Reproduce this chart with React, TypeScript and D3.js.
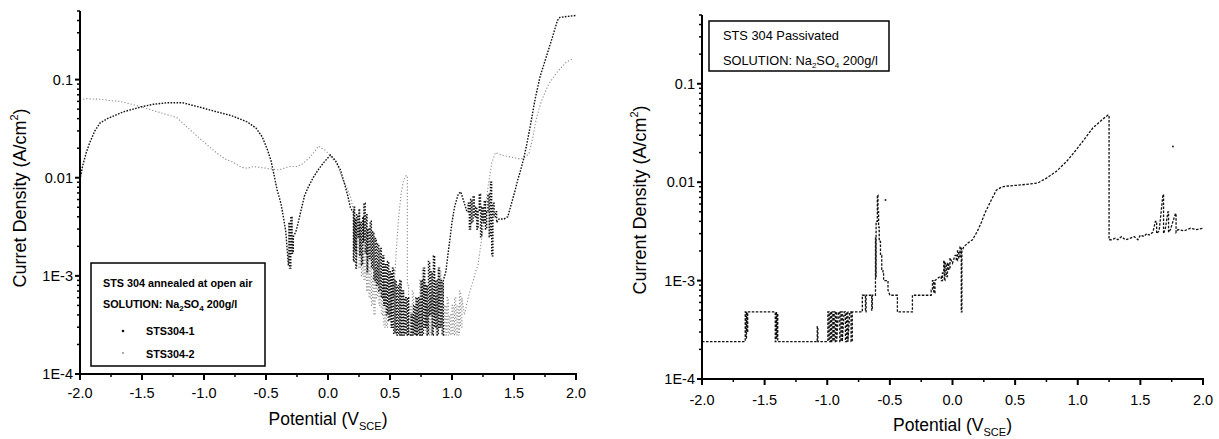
import React from "react";
import * as d3 from "d3";

// ---------- data ----------
const X_TICKS = [-2.0, -1.5, -1.0, -0.5, 0.0, 0.5, 1.0, 1.5, 2.0];
const X_TICK_LABELS = ["-2.0", "-1.5", "-1.0", "-0.5", "0.0", "0.5", "1.0", "1.5", "2.0"];
const Y_TICKS = [1e-4, 1e-3, 0.01, 0.1];
const Y_TICK_LABELS = ["1E-4", "1E-3", "0.01", "0.1"];

// STS304-1 (annealed at open air), [potential V, current density A/cm2]
const STS304_1: [number, number][] = [
  [-2.0, 0.0095], [-1.98, 0.013], [-1.95, 0.018], [-1.92, 0.023], [-1.88, 0.03], [-1.84, 0.036],
  [-1.78, 0.04], [-1.72, 0.043], [-1.65, 0.047], [-1.57, 0.05], [-1.5, 0.053], [-1.41, 0.056],
  [-1.3, 0.058], [-1.17, 0.058], [-1.05, 0.053], [-0.9, 0.047], [-0.78, 0.043], [-0.65, 0.037],
  [-0.58, 0.032], [-0.53, 0.026], [-0.49, 0.0195], [-0.46, 0.015], [-0.44, 0.0114], [-0.41, 0.0075],
  [-0.38, 0.0055], [-0.36, 0.004], [-0.34, 0.0028], [-0.32, 0.0013], [-0.315, 0.0035], [-0.31, 0.0012],
  [-0.3, 0.004], [-0.29, 0.0017], [-0.28, 0.0025], [-0.26, 0.0028], [-0.24, 0.0035], [-0.22, 0.0045],
  [-0.19, 0.0065], [-0.16, 0.008], [-0.12, 0.01], [-0.08, 0.012], [-0.04, 0.014], [0.0, 0.016],
  [0.02, 0.017], [0.06, 0.015], [0.1, 0.012], [0.13, 0.009], [0.16, 0.0065], [0.18, 0.005],
  [0.2, 0.0045], [0.205, 0.0014], [0.21, 0.005], [0.215, 0.0018], [0.22, 0.0038], [0.225, 0.0012],
  [0.23, 0.0042], [0.24, 0.0025], [0.25, 0.0048], [0.255, 0.0016], [0.26, 0.0035], [0.27, 0.0013],
  [0.28, 0.004], [0.285, 0.0022], [0.29, 0.0055], [0.3, 0.0017], [0.31, 0.0042], [0.315, 0.0011],
  [0.32, 0.003], [0.33, 0.0015], [0.34, 0.0036], [0.35, 0.0012], [0.36, 0.0028], [0.37, 0.0009],
  [0.38, 0.0024], [0.39, 0.0008], [0.4, 0.0021], [0.41, 0.0007], [0.42, 0.0019], [0.43, 0.0006],
  [0.44, 0.0016], [0.45, 0.0005], [0.46, 0.0013], [0.47, 0.0004], [0.48, 0.0014], [0.49, 0.00035],
  [0.5, 0.0011], [0.51, 0.0003], [0.52, 0.0012], [0.53, 0.00026], [0.54, 0.0009], [0.55, 0.00025],
  [0.56, 0.0008], [0.57, 0.00025], [0.58, 0.0009], [0.59, 0.00025], [0.6, 0.0007], [0.61, 0.00025],
  [0.62, 0.0006], [0.63, 0.00025], [0.64, 0.0006], [0.65, 0.00025], [0.66, 0.00025], [0.67, 0.0004],
  [0.68, 0.00025], [0.69, 0.0005], [0.7, 0.00025], [0.71, 0.0006], [0.72, 0.00025], [0.73, 0.0006],
  [0.74, 0.00025], [0.75, 0.0009], [0.76, 0.00025], [0.77, 0.0012], [0.78, 0.0003], [0.79, 0.0008],
  [0.8, 0.00025], [0.81, 0.0014], [0.82, 0.0004], [0.83, 0.0011], [0.84, 0.00025], [0.85, 0.0016],
  [0.86, 0.0003], [0.87, 0.0009], [0.88, 0.00025], [0.89, 0.0012], [0.9, 0.0003], [0.91, 0.0009],
  [0.92, 0.00025], [0.93, 0.0009], [0.95, 0.0011], [0.98, 0.0022],
  [1.0, 0.0035], [1.02, 0.005], [1.05, 0.0068], [1.07, 0.0072], [1.1, 0.0055], [1.12, 0.0045],
  [1.13, 0.0055], [1.14, 0.003], [1.15, 0.006], [1.16, 0.0035], [1.17, 0.0065], [1.18, 0.004],
  [1.19, 0.005], [1.2, 0.003], [1.21, 0.0045], [1.22, 0.0068], [1.23, 0.0025], [1.24, 0.005],
  [1.25, 0.0035], [1.26, 0.0058], [1.27, 0.003], [1.28, 0.0045], [1.29, 0.0068], [1.3, 0.0025],
  [1.31, 0.009], [1.32, 0.0016], [1.33, 0.0055], [1.34, 0.004], [1.35, 0.0045], [1.36, 0.0035],
  [1.38, 0.0038], [1.42, 0.0038], [1.45, 0.004],
  [1.48, 0.0055], [1.51, 0.0075], [1.53, 0.0095], [1.55, 0.0115], [1.58, 0.016], [1.6, 0.021],
  [1.63, 0.033], [1.67, 0.063], [1.71, 0.107], [1.76, 0.17], [1.81, 0.27], [1.85, 0.4],
  [1.87, 0.43], [1.93, 0.44], [2.0, 0.45],
];

// STS304-2 (annealed at open air)
const STS304_2: [number, number][] = [
  [-2.0, 0.062], [-1.95, 0.064], [-1.84, 0.063], [-1.75, 0.061], [-1.68, 0.06], [-1.58, 0.056],
  [-1.49, 0.052], [-1.4, 0.048], [-1.3, 0.044], [-1.22, 0.041], [-1.15, 0.034], [-1.09, 0.029],
  [-1.0, 0.023], [-0.9, 0.018], [-0.83, 0.0155], [-0.77, 0.0145], [-0.7, 0.0128], [-0.65, 0.0125],
  [-0.6, 0.013], [-0.5, 0.0125], [-0.4, 0.012], [-0.31, 0.013], [-0.25, 0.013], [-0.2, 0.014],
  [-0.15, 0.016], [-0.1, 0.019], [-0.08, 0.021], [-0.05, 0.02], [-0.02, 0.019], [0.03, 0.016],
  [0.07, 0.014], [0.12, 0.0095], [0.15, 0.008], [0.18, 0.0065], [0.2, 0.005], [0.21, 0.0022],
  [0.22, 0.0035], [0.23, 0.0016], [0.24, 0.003], [0.25, 0.0012], [0.26, 0.0026], [0.27, 0.001],
  [0.28, 0.0022], [0.29, 0.0009], [0.3, 0.0019], [0.31, 0.0007], [0.32, 0.0015], [0.33, 0.0006],
  [0.34, 0.0012], [0.35, 0.0005], [0.36, 0.001], [0.37, 0.0004], [0.38, 0.0012], [0.39, 0.0006],
  [0.4, 0.0014], [0.41, 0.0005], [0.42, 0.0011], [0.43, 0.0004], [0.44, 0.0009], [0.45, 0.0003],
  [0.46, 0.0008], [0.47, 0.0003], [0.48, 0.0009], [0.49, 0.0004], [0.5, 0.001], [0.51, 0.0004],
  [0.52, 0.0012], [0.53, 0.0006], [0.55, 0.0018],
  [0.57, 0.004], [0.59, 0.007], [0.61, 0.0095], [0.63, 0.0105], [0.64, 0.0008], [0.65, 0.00025],
  [0.66, 0.0005], [0.67, 0.00025], [0.68, 0.0007], [0.69, 0.00025], [0.7, 0.0004], [0.71, 0.00025],
  [0.72, 0.0006], [0.73, 0.00025], [0.74, 0.0009], [0.75, 0.0003], [0.76, 0.0012], [0.77, 0.0004],
  [0.78, 0.0009], [0.79, 0.00025], [0.8, 0.0005], [0.81, 0.00025], [0.82, 0.0006], [0.83, 0.00025],
  [0.84, 0.0007], [0.85, 0.0004], [0.86, 0.0006], [0.87, 0.00025], [0.88, 0.0008], [0.89, 0.0003],
  [0.9, 0.0011], [0.91, 0.0003], [0.92, 0.0008], [0.93, 0.00025], [0.94, 0.0005], [0.95, 0.00025],
  [0.96, 0.0006], [0.97, 0.00025], [0.98, 0.0004], [0.99, 0.00025], [1.0, 0.0005], [1.01, 0.00025],
  [1.02, 0.0006], [1.03, 0.00025], [1.04, 0.0005], [1.05, 0.00025], [1.06, 0.0007], [1.07, 0.0003],
  [1.08, 0.0006], [1.1, 0.0004], [1.13, 0.0006], [1.16, 0.0008], [1.19, 0.0011], [1.21, 0.0013],
  [1.25, 0.003], [1.29, 0.008], [1.32, 0.014], [1.35, 0.018], [1.4, 0.017], [1.45, 0.0165],
  [1.5, 0.016], [1.55, 0.0155], [1.58, 0.016], [1.62, 0.0175], [1.65, 0.025], [1.68, 0.04],
  [1.72, 0.06], [1.78, 0.09], [1.85, 0.12], [1.92, 0.15], [1.98, 0.165],
];

// STS 304 Passivated
const PASSIVATED: [number, number][] = [
  [-2.0, 2.4e-4], [-1.66, 2.4e-4], [-1.655, 4.8e-4], [-1.65, 2.6e-4], [-1.645, 4.8e-4], [-1.64, 3e-4],
  [-1.635, 4.8e-4], [-1.42, 4.8e-4], [-1.415, 2.4e-4], [-1.41, 4.8e-4], [-1.405, 2.6e-4], [-1.4, 4.6e-4],
  [-1.395, 2.4e-4], [-1.08, 2.4e-4], [-1.08, 3.4e-4], [-1.075, 2.4e-4], [-1.0, 2.4e-4], [-0.995, 4.8e-4],
  [-0.985, 2.4e-4], [-0.975, 4.8e-4], [-0.965, 2.4e-4], [-0.955, 4.8e-4], [-0.945, 2.4e-4], [-0.935, 4.8e-4],
  [-0.925, 2.4e-4], [-0.91, 4.8e-4], [-0.9, 2.4e-4], [-0.89, 4.8e-4], [-0.88, 2.4e-4], [-0.865, 4.8e-4],
  [-0.855, 2.4e-4], [-0.845, 4.8e-4], [-0.835, 2.4e-4], [-0.82, 4.8e-4], [-0.81, 2.4e-4], [-0.8, 4.8e-4],
  [-0.72, 4.8e-4], [-0.72, 7.1e-4], [-0.7, 7.1e-4], [-0.695, 4.8e-4], [-0.69, 7.1e-4], [-0.65, 7.1e-4],
  [-0.645, 5e-4], [-0.64, 7.1e-4], [-0.62, 7.1e-4], [-0.615, 2.7e-3], [-0.612, 1.1e-3], [-0.61, 4e-3],
  [-0.6, 7.4e-3], [-0.595, 5e-3], [-0.59, 3.5e-3], [-0.585, 2.5e-3], [-0.575, 1.8e-3], [-0.565, 1.3e-3],
  [-0.555, 1.2e-3], [-0.55, 1.0e-3], [-0.52, 1.0e-3], [-0.515, 8e-4], [-0.5, 7.1e-4], [-0.44, 7.1e-4],
  [-0.44, 4.8e-4], [-0.32, 4.8e-4], [-0.32, 7.1e-4], [-0.18, 7.1e-4], [-0.17, 8e-4], [-0.16, 1.0e-3],
  [-0.15, 7.5e-4], [-0.14, 1.0e-3], [-0.12, 1.05e-3], [-0.1, 1.1e-3], [-0.09, 1.0e-3], [-0.08, 1.2e-3],
  [-0.07, 1.6e-3], [-0.065, 1.0e-3], [-0.06, 1.5e-3], [-0.05, 1.1e-3], [-0.04, 1.5e-3], [-0.03, 1.3e-3],
  [-0.02, 1.7e-3], [0.0, 1.5e-3], [0.02, 1.8e-3], [0.03, 1.6e-3], [0.04, 2.0e-3], [0.05, 1.7e-3],
  [0.06, 2.2e-3], [0.07, 4.8e-4], [0.075, 2.0e-3], [0.09, 2.2e-3], [0.12, 2.4e-3], [0.16, 2.6e-3],
  [0.2, 3.2e-3], [0.23, 3.9e-3], [0.26, 4.9e-3], [0.31, 6.6e-3], [0.35, 8.3e-3], [0.39, 8.9e-3],
  [0.43, 9.1e-3], [0.51, 9.3e-3], [0.59, 9.5e-3], [0.68, 9.8e-3], [0.75, 0.011], [0.83, 0.0129],
  [0.91, 0.0162], [0.97, 0.02], [1.05, 0.027], [1.12, 0.0355], [1.19, 0.0427], [1.24, 0.048],
  [1.245, 0.048], [1.25, 0.0026], [1.27, 0.0026], [1.3, 0.0027], [1.32, 0.0026], [1.35, 0.0028],
  [1.38, 0.0026], [1.42, 0.0027], [1.45, 0.0028], [1.48, 0.0026], [1.5, 0.0029], [1.53, 0.0028],
  [1.55, 0.003], [1.57, 0.0029], [1.6, 0.0031], [1.62, 0.004], [1.63, 0.003], [1.65, 0.0032],
  [1.68, 0.0075], [1.685, 0.003], [1.7, 0.0034], [1.72, 0.005], [1.725, 0.0031], [1.74, 0.0033],
  [1.78, 0.0048], [1.785, 0.0031], [1.8, 0.0033], [1.85, 0.0032], [1.9, 0.0034], [1.95, 0.0033],
  [2.0, 0.0034],
];
const PASSIVATED_STRAY: [number, number][] = [[-0.535, 6.6e-3], [1.76, 0.023]];

const LEFT_LEGEND = ["STS 304 annealed at open air", "SOLUTION: Na", "2", "SO", "4", " 200g/l"];
const SERIES_NAMES = ["STS304-1", "STS304-2"];
const RIGHT_LEGEND = ["STS 304 Passivated"];

const FONT = "'Liberation Sans', Arial, Helvetica, sans-serif";

// path builder: closely spaced readings are drawn as vertical steps (noisy current spikes)
function seriesPath(
  data: [number, number][],
  x: d3.ScaleLinear<number, number>,
  y: d3.ScaleLogarithmic<number, number>
): string {
  const p = d3.path();
  data.forEach((d, i) => {
    const px = x(d[0]);
    const py = y(d[1]);
    if (i === 0) {
      p.moveTo(px, py);
      return;
    }
    const prev = data[i - 1];
    const dv = d[0] - prev[0];
    if (dv > 0 && dv <= 0.0125) {
      p.lineTo(px, y(prev[1]));
      p.lineTo(px, py);
    } else {
      p.lineTo(px, py);
    }
  });
  return p.toString();
}

type PanelProps = {
  x0: number; x1: number; yBottom: number; yTop: number;
  yTitle: string; titleX: number; titleCY: number; xTitleY: number; xLabelY: number;
  children: (x: d3.ScaleLinear<number, number>, y: d3.ScaleLogarithmic<number, number>) => React.ReactNode;
};

function Panel({ x0, x1, yBottom, yTop, yTitle, titleX, titleCY, xTitleY, xLabelY, children }: PanelProps) {
  const x = d3.scaleLinear().domain([-2, 2]).range([x0, x1]);
  const y = d3.scaleLog().domain([1e-4, 0.5]).range([yBottom, yTop]);
  const minorX = d3.range(-2, 2.001, 0.25).filter((v) => Math.abs(v * 2 - Math.round(v * 2)) > 1e-6);
  const minorY: number[] = [];
  [1e-4, 1e-3, 1e-2, 1e-1].forEach((d) => {
    for (let k = 2; k <= 9; k++) if (d * k <= 0.5 + 1e-9) minorY.push(d * k);
  });
  return (
    <g>
      {children(x, y)}
      <line x1={x0} x2={x0} y1={yTop} y2={yBottom + 1} stroke="#000" strokeWidth={2} />
      <line x1={x0 - 1} x2={x1 + 1} y1={yBottom} y2={yBottom} stroke="#000" strokeWidth={2} />
      {X_TICKS.map((v, i) => (
        <g key={"xt" + i}>
          <line x1={x(v)} x2={x(v)} y1={yBottom} y2={yBottom + 6} stroke="#000" strokeWidth={2} />
          <text x={x(v)} y={xLabelY} textAnchor="middle" fontSize={14.5} fontFamily={FONT} fill="#000">
            {X_TICK_LABELS[i]}
          </text>
        </g>
      ))}
      {minorX.map((v, i) => (
        <line key={"xm" + i} x1={x(v)} x2={x(v)} y1={yBottom} y2={yBottom + 3} stroke="#000" strokeWidth={1.5} />
      ))}
      {Y_TICKS.map((v, i) => (
        <g key={"yt" + i}>
          <line x1={x0 - 5} x2={x0} y1={y(v)} y2={y(v)} stroke="#000" strokeWidth={2} />
          <text x={x0 - 7} y={y(v) + 5} textAnchor="end" fontSize={14.5} fontFamily={FONT} fill="#000">
            {Y_TICK_LABELS[i]}
          </text>
        </g>
      ))}
      {minorY.map((v, i) => (
        <line key={"ym" + i} x1={x0 - 3} x2={x0} y1={y(v)} y2={y(v)} stroke="#000" strokeWidth={1.5} />
      ))}
      <text
        transform={`translate(${titleX},${titleCY}) rotate(-90)`}
        textAnchor="middle"
        fontSize={18}
        fontFamily={FONT}
        fill="#000"
      >
        {yTitle} (A/cm<tspan fontSize={11} dy={-8}>2</tspan>
        <tspan dy={8}>)</tspan>
      </text>
      <text x={(x0 + x1) / 2} y={xTitleY} textAnchor="middle" fontSize={17.5} fontFamily={FONT} fill="#000">
        Potential (V<tspan fontSize={11} dy={5}>SCE</tspan>
        <tspan dy={-5}>)</tspan>
      </text>
    </g>
  );
}

export default function App() {
  const W = 1219;
  const H = 439;
  return (
    <svg
      width={W}
      height={H}
      viewBox={`0 0 ${W} ${H}`}
      style={{ position: "absolute", left: 0, top: 0, background: "#fff" }}
    >
      <rect width={W} height={H} fill="#fff" />
      <Panel x0={80} x1={576} yBottom={374} yTop={11} yTitle="Curret Density" titleX={26} titleCY={198} xTitleY={425} xLabelY={398}>
        {(x, y) => (
          <g>
            <path d={seriesPath(STS304_2, x, y)} fill="none" stroke="#8c8c8c" strokeWidth={1.1} strokeDasharray="1.2 2" />
            <path d={seriesPath(STS304_1, x, y)} fill="none" stroke="#111" strokeWidth={1.4} strokeDasharray="1.6 1.4" />
            <rect x={91} y={263} width={174} height={103} fill="#fff" stroke="#000" strokeWidth={1.5} />
            <text x={103} y={287} fontSize={10.8} fontWeight="bold" fontFamily={FONT}>{LEFT_LEGEND[0]}</text>
            <text x={103} y={308} fontSize={10.8} fontWeight="bold" fontFamily={FONT}>
              {LEFT_LEGEND[1]}
              <tspan fontSize={8} dy={3}>{LEFT_LEGEND[2]}</tspan>
              <tspan dy={-3}>{LEFT_LEGEND[3]}</tspan>
              <tspan fontSize={8} dy={3}>{LEFT_LEGEND[4]}</tspan>
              <tspan dy={-3}>{LEFT_LEGEND[5]}</tspan>
            </text>
            <circle cx={123} cy={331} r={1.3} fill="#111" />
            <text x={146} y={335} fontSize={10.8} fontWeight="bold" fontFamily={FONT}>{SERIES_NAMES[0]}</text>
            <circle cx={123} cy={353} r={1.1} fill="#999" />
            <text x={146} y={358} fontSize={10.8} fontWeight="bold" fontFamily={FONT}>{SERIES_NAMES[1]}</text>
          </g>
        )}
      </Panel>
      <Panel x0={702} x1={1203} yBottom={379} yTop={15} yTitle="Current Density" titleX={646} titleCY={200} xTitleY={431} xLabelY={405}>
        {(x, y) => (
          <g>
            <path d={seriesPath(PASSIVATED, x, y)} fill="none" stroke="#111" strokeWidth={1.3} strokeDasharray="2.5 1.5" />
            {PASSIVATED_STRAY.map((d, i) => (
              <circle key={i} cx={x(d[0])} cy={y(d[1])} r={1} fill="#222" />
            ))}
            <rect x={709} y={21} width={180} height={50} fill="#fff" stroke="#000" strokeWidth={1.5} />
            <text x={723} y={40} fontSize={12.8} fontFamily={FONT}>{RIGHT_LEGEND[0]}</text>
            <text x={723} y={65} fontSize={12.8} fontFamily={FONT}>
              {LEFT_LEGEND[1]}
              <tspan fontSize={8} dy={3}>{LEFT_LEGEND[2]}</tspan>
              <tspan dy={-3}>{LEFT_LEGEND[3]}</tspan>
              <tspan fontSize={8} dy={3}>{LEFT_LEGEND[4]}</tspan>
              <tspan dy={-3}>{LEFT_LEGEND[5]}</tspan>
            </text>
          </g>
        )}
      </Panel>
    </svg>
  );
}
